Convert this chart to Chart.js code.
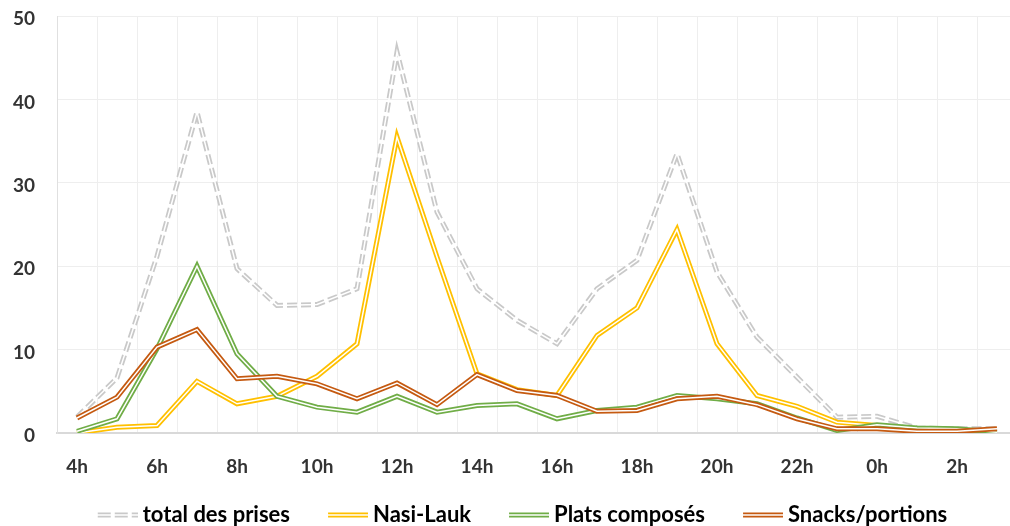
<!DOCTYPE html>
<html>
<head>
<meta charset="utf-8">
<script src="https://cdn.jsdelivr.net/npm/chart.js@4.4.1/dist/chart.umd.min.js"></script>
<style>
  html, body { margin: 0; padding: 0; background: #fff; overflow: hidden; }
  #wrap { width: 1010px; height: 526px; overflow: hidden; position: relative; }
  #chart { position: absolute; left: 0; top: 0; }
</style>
</head>
<body>
<div id="wrap"><canvas id="chart" width="1040" height="536" style="width:1040px;height:536px"></canvas></div>
<script>
const heures = ['4h','5h','6h','7h','8h','9h','10h','11h','12h','13h','14h','15h','16h','17h','18h','19h','20h','21h','22h','23h','0h','1h','2h','3h'];
const totalPrises   = [1.9, 6.6, 21.2, 38.5, 19.7, 15.3, 15.4, 17.3, 45.7, 26.5, 17.3, 13.5, 10.7, 17.3, 20.7, 33.5, 19.3, 11.5, 6.7, 1.9, 2.0, 0.6, 0.5, 0.5];
const nasiLauk      = [0.0, 0.7, 0.9, 6.2, 3.5, 4.4, 6.8, 10.7, 35.5, 21.1, 7.1, 5.2, 4.5, 11.7, 15.0, 24.4, 10.7, 4.5, 3.2, 1.3, 0.9, 0.3, 0.2, 0.2];
const platsComposes = [0.2, 1.7, 10.1, 20.0, 9.5, 4.4, 3.1, 2.5, 4.4, 2.5, 3.3, 3.5, 1.7, 2.7, 3.1, 4.5, 4.1, 3.5, 1.8, 0.3, 1.0, 0.6, 0.5, 0.1];
const snacksPortions = [1.8, 4.3, 10.3, 12.4, 6.5, 6.8, 5.9, 4.1, 6.0, 3.4, 7.0, 5.1, 4.5, 2.6, 2.7, 4.1, 4.4, 3.4, 1.7, 0.5, 0.5, 0.2, 0.2, 0.5];
const yTicks = [0, 10, 20, 30, 40, 50];

const series = [
  { label: 'total des prises', data: totalPrises, color: '#c9c9c9', dash: [10, 4] },
  { label: 'Nasi-Lauk', data: nasiLauk, color: '#ffc000', dash: [] },
  { label: 'Plats composés', data: platsComposes, color: '#70ad47', dash: [] },
  { label: 'Snacks/portions', data: snacksPortions, color: '#c55a11', dash: [] }
];

const TXT = '#333333';
const FONT = 'Lato, "Open Sans", sans-serif';
const legendFont = 22, legendPad = 10;
const canvasH = 536, plotTop = 16, plotBottom = 433, plotLeft = 57;
const boxW = 62, imgW = 74;   // place du symbole dans la légende

// symbole double trait pour la légende (collé à droite de l'image)
function symbole(s) {
  const c = document.createElement('canvas');
  c.width = imgW; c.height = 8;
  const g = c.getContext('2d');
  g.setLineDash(s.dash.length ? [13, 4] : []);
  g.strokeStyle = s.color; g.lineWidth = 5;
  g.beginPath(); g.moveTo(imgW - 40, 4); g.lineTo(imgW, 4); g.stroke();
  g.setLineDash([]);
  g.strokeStyle = '#fff'; g.lineWidth = 1.5;
  g.beginPath(); g.moveTo(imgW - 40, 4); g.lineTo(imgW, 4); g.stroke();
  return c;
}

const datasets = [];
series.forEach((s, k) => {
  datasets.push({
    label: s.label, data: s.data, borderColor: s.color, borderWidth: 5,
    borderDash: s.dash, pointRadius: 0, tension: 0, fill: false,
    order: (3 - k) * 2 + 1
  });
  datasets.push({
    label: s.label, data: s.data, borderColor: '#ffffff', borderWidth: 1.5,
    pointRadius: 0, tension: 0, fill: false,
    order: (3 - k) * 2
  });
});

new Chart(document.getElementById('chart'), {
  type: 'line',
  data: { labels: heures, datasets },
  options: {
    responsive: false,
    animation: false,
    layout: { padding: { top: 0, right: 23, left: 0, bottom: 0 } },
    plugins: {
      tooltip: { enabled: false },
      legend: {
        position: 'bottom',
        labels: {
          usePointStyle: true,
          pointStyleWidth: boxW,
          padding: legendPad,
          color: TXT,
          font: { family: FONT, size: legendFont, weight: 'bold' },
          generateLabels: () => series.map((s, k) => ({
            text: s.label, pointStyle: symbole(s), fillStyle: s.color,
            strokeStyle: s.color, lineWidth: 0, hidden: false, datasetIndex: k * 2
          }))
        }
      }
    },
    scales: {
      x: {
        offset: true,
        grid: { offset: true, color: '#eeeeee', lineWidth: 1, drawTicks: false },
        border: { color: '#d9d9d9', width: 2 },
        ticks: {
          autoSkip: false, maxRotation: 0, padding: 22, color: TXT,
          font: { family: FONT, size: 19, weight: 'bold' },
          callback: (v, i) => i % 2 === 0 ? heures[i] : ''
        },
        afterFit: s => { s.height = canvasH - plotBottom - (legendFont + legendPad + 10); }
      },
      y: {
        min: 0, max: 50,
        afterBuildTicks: s => { s.ticks = yTicks.map(v => ({ value: v })); },
        grid: { color: '#eeeeee', lineWidth: 1, drawTicks: false },
        border: { color: '#e0e0e0', width: 1 },
        ticks: { padding: 22, labelOffset: 3, color: TXT, font: { family: FONT, size: 19, weight: 'bold' } },
        afterFit: s => { s.width = plotLeft; s.paddingTop = plotTop; s.paddingBottom = 0; }
      }
    }
  }
});
</script>
</body>
</html>
